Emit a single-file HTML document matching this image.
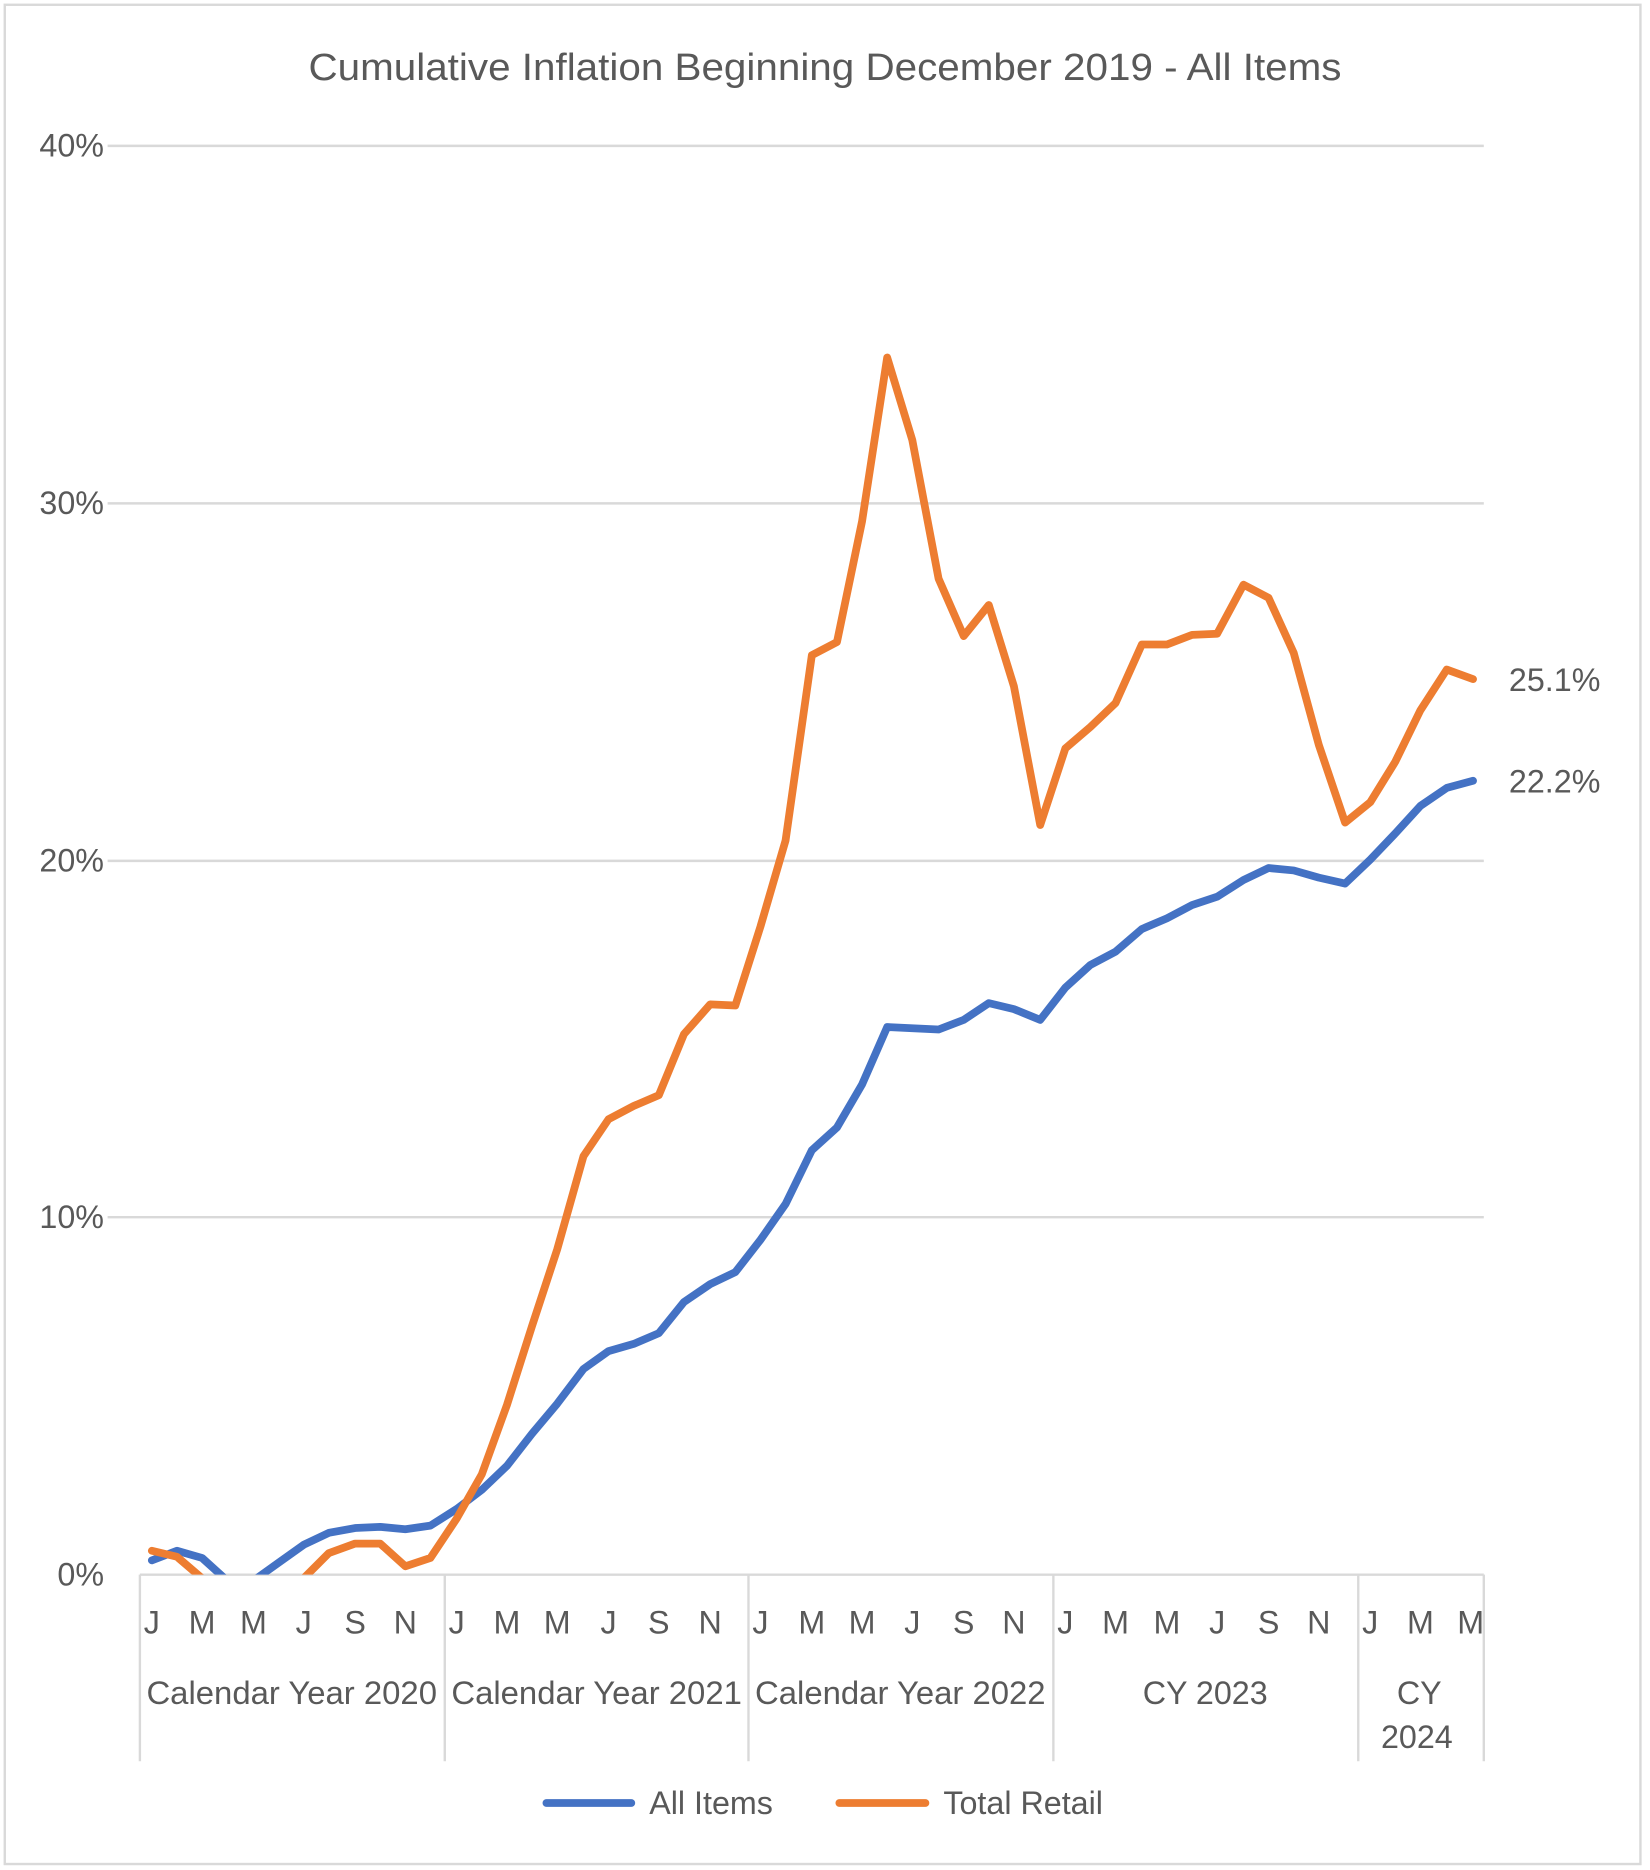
<!DOCTYPE html>
<html><head><style>
html,body{margin:0;padding:0;background:#fff;}
svg{display:block;}
text{font-family:"Liberation Sans",sans-serif;fill:#595959;}
</style></head><body>
<svg width="1650" height="1870" viewBox="0 0 1380 1564" preserveAspectRatio="none" xmlns="http://www.w3.org/2000/svg">
<rect x="4" y="4" width="1368" height="1555" fill="#fff" stroke="#d9d9d9" stroke-width="2"/>
<text x="690" y="67" font-size="32" text-anchor="middle" textLength="864" lengthAdjust="spacingAndGlyphs">Cumulative Inflation Beginning December 2019 - All Items</text>
<g stroke="#d9d9d9" stroke-width="2">
<line x1="90" y1="122" x2="1241" y2="122"/>
<line x1="90" y1="421" x2="1241" y2="421"/>
<line x1="90" y1="720" x2="1241" y2="720"/>
<line x1="90" y1="1018" x2="1241" y2="1018"/>
<line x1="117" y1="1317" x2="1241" y2="1317"/>
<line x1="117" y1="1317" x2="117" y2="1473"/>
<line x1="372" y1="1317" x2="372" y2="1473"/>
<line x1="626" y1="1317" x2="626" y2="1473"/>
<line x1="881" y1="1317" x2="881" y2="1473"/>
<line x1="1136" y1="1317" x2="1136" y2="1473"/>
<line x1="1241" y1="1317" x2="1241" y2="1473"/>
</g>
<g font-size="27" text-anchor="end">
<text x="87" y="131">40%</text>
<text x="87" y="430">30%</text>
<text x="87" y="729">20%</text>
<text x="87" y="1027">10%</text>
<text x="87" y="1326">0%</text>
</g>
<defs><clipPath id="c"><rect x="100" y="0" width="1160" height="1317"/></clipPath></defs>
<g clip-path="url(#c)" fill="none" stroke-width="6.5" stroke-linejoin="round" stroke-linecap="round">
<polyline stroke="#4472c4" points="127,1305 148,1297 169,1303 190,1322 212,1322 233,1307 254,1292 275,1282 297,1278 318,1277 339,1279 360,1276 382,1262 403,1246 424,1226 445,1199 466,1174 488,1145 509,1130 530,1124 551,1115 572,1089 594,1074 615,1064 636,1037 657,1007 679,962 700,943 721,907 742,859 763,860 785,861 806,853 827,839 848,844 870,853 891,826 912,807 933,796 955,777 976,768 997,757 1018,750 1040,736 1061,726 1082,728 1103,734 1125,739 1146,719 1167,697 1188,674 1210,659 1232,653"/>
<polyline stroke="#ed7d31" points="127,1297 148,1302 169,1320 190,1330 212,1330 233,1330 254,1320 275,1299 297,1291 318,1291 339,1310 360,1303 382,1270 403,1233 424,1175 445,1109 466,1045 488,967 509,936 530,925 551,916 572,865 594,840 615,841 636,775 657,703 679,548 700,537 721,436 742,299 763,368 785,484 806,532 827,506 848,574 870,690 891,626 912,608 933,588 955,539 976,539 997,531 1018,530 1040,489 1061,500 1082,546 1103,623 1125,688 1146,671 1167,637 1188,594 1210,560 1232,568"/>
</g>
<text x="1262" y="578" font-size="27" fill="#404040">25.1%</text>
<text x="1262" y="663" font-size="27" fill="#404040">22.2%</text>
<g font-size="27" text-anchor="middle">
<text x="127" y="1366">J</text><text x="169" y="1366">M</text><text x="212" y="1366">M</text><text x="254" y="1366">J</text><text x="297" y="1366">S</text><text x="339" y="1366">N</text>
<text x="382" y="1366">J</text><text x="424" y="1366">M</text><text x="466" y="1366">M</text><text x="509" y="1366">J</text><text x="551" y="1366">S</text><text x="594" y="1366">N</text>
<text x="636" y="1366">J</text><text x="679" y="1366">M</text><text x="721" y="1366">M</text><text x="763" y="1366">J</text><text x="806" y="1366">S</text><text x="848" y="1366">N</text>
<text x="891" y="1366">J</text><text x="933" y="1366">M</text><text x="976" y="1366">M</text><text x="1018" y="1366">J</text><text x="1061" y="1366">S</text><text x="1103" y="1366">N</text>
<text x="1146" y="1366">J</text><text x="1188" y="1366">M</text><text x="1230" y="1366">M</text>
<text x="244" y="1425" textLength="243" lengthAdjust="spacingAndGlyphs">Calendar Year 2020</text>
<text x="499" y="1425" textLength="243" lengthAdjust="spacingAndGlyphs">Calendar Year 2021</text>
<text x="753" y="1425" textLength="243" lengthAdjust="spacingAndGlyphs">Calendar Year 2022</text>
<text x="1008" y="1425">CY 2023</text>
<text x="1187" y="1425">CY</text>
<text x="1185" y="1462">2024</text>
</g>
<line x1="457" y1="1508" x2="528" y2="1508" stroke="#4472c4" stroke-width="6.5" stroke-linecap="round"/>
<text x="543" y="1517" font-size="27">All Items</text>
<line x1="702" y1="1508" x2="774" y2="1508" stroke="#ed7d31" stroke-width="6.5" stroke-linecap="round"/>
<text x="789" y="1517" font-size="27">Total Retail</text>
</svg>
</body></html>
